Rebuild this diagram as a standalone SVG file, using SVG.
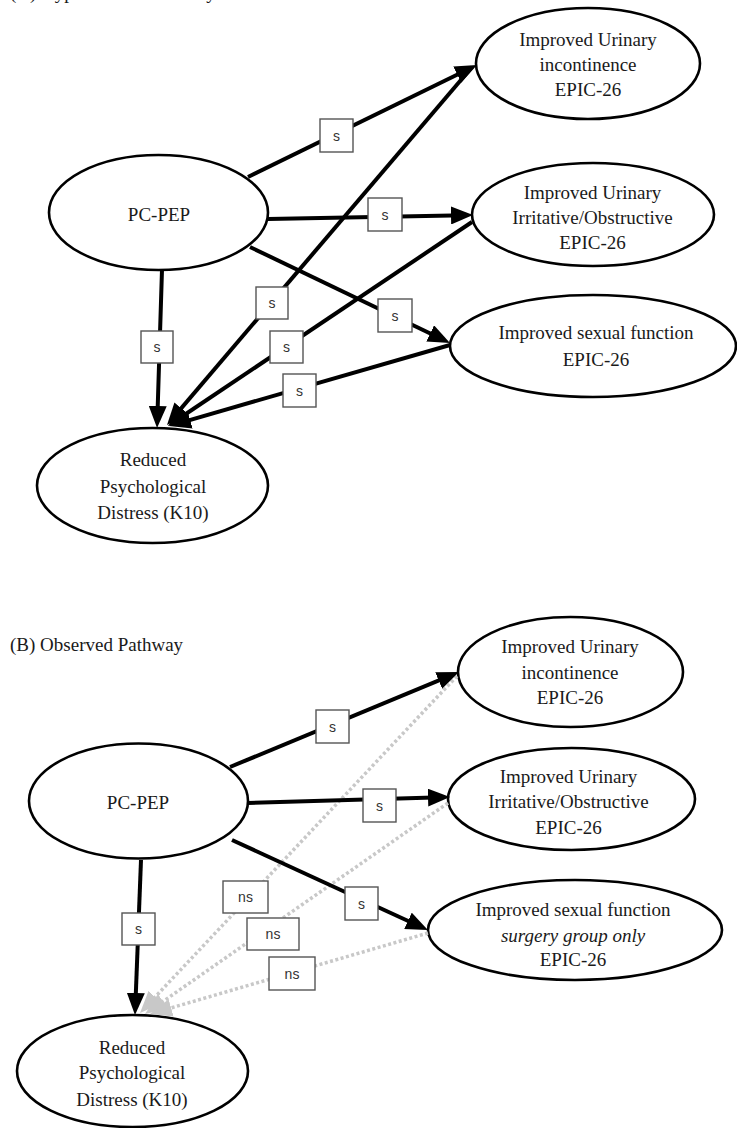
<svg xmlns="http://www.w3.org/2000/svg" width="737" height="1128" viewBox="0 0 737 1128">
<style>
.node ellipse{fill:#fff;stroke:#000;stroke-width:2.6}
.nt{font-family:"Liberation Serif","Times New Roman",serif;font-size:19px;fill:#1a1a1a;text-anchor:middle}
.title{font-family:"Liberation Serif","Times New Roman",serif;font-size:19px;fill:#1a1a1a}
.e{fill:none;stroke:#000;stroke-width:4}
.ed{fill:none;stroke:#c8c8c8;stroke-width:3.5;stroke-dasharray:3 2.5}
.lb rect{fill:#fff;stroke:#555;stroke-width:1.4}
.lb text{font-family:"Liberation Sans",Arial,sans-serif;font-size:14px;fill:#333;text-anchor:middle}
</style>
<defs>
<marker id="ah" viewBox="0 0 22 18" refX="14" refY="9" markerWidth="22" markerHeight="18" markerUnits="userSpaceOnUse" orient="auto"><path d="M0,0 L22,9 L0,18 Z" fill="#000"/></marker>
<marker id="ahg" viewBox="0 0 22 18" refX="14" refY="9" markerWidth="22" markerHeight="18" markerUnits="userSpaceOnUse" orient="auto"><path d="M0,0 L22,9 L0,18 Z" fill="#c8c8c8"/></marker>
</defs>
<rect width="737" height="1128" fill="#fff"/>
<text class="title" x="10" y="-1">(A) Hypothesized Pathway</text>
<text class="title" x="10" y="651">(B) Observed Pathway</text>

<g id="a-pcpep" class="node"><ellipse cx="158.5" cy="212.5" rx="109.5" ry="57.5"/><text class="nt" x="159" y="221">PC-PEP</text></g>
<g id="a-incont" class="node"><ellipse cx="588" cy="63.5" rx="112" ry="55.5"/><text class="nt" x="588" y="46">Improved Urinary</text><text class="nt" x="588" y="71">incontinence</text><text class="nt" x="588" y="96">EPIC-26</text></g>
<g id="a-irrit" class="node"><ellipse cx="593" cy="214.5" rx="121" ry="51.5"/><text class="nt" x="592.5" y="199">Improved Urinary</text><text class="nt" x="592.5" y="224">Irritative/Obstructive</text><text class="nt" x="592.5" y="249">EPIC-26</text></g>
<g id="a-sexual" class="node"><ellipse cx="593" cy="346" rx="143" ry="51"/><text class="nt" x="596" y="339">Improved sexual function</text><text class="nt" x="596" y="366">EPIC-26</text></g>
<g id="a-distress" class="node"><ellipse cx="152.5" cy="485.5" rx="115.5" ry="57.5"/><text class="nt" x="153" y="466">Reduced</text><text class="nt" x="153" y="493">Psychological</text><text class="nt" x="153" y="519">Distress (K10)</text></g>

<g id="b-pcpep" class="node"><ellipse cx="138.5" cy="801" rx="109.5" ry="57.5"/><text class="nt" x="138" y="809">PC-PEP</text></g>
<g id="b-incont" class="node"><ellipse cx="570.5" cy="672" rx="112.5" ry="55"/><text class="nt" x="570" y="653">Improved Urinary</text><text class="nt" x="570" y="679">incontinence</text><text class="nt" x="570" y="704">EPIC-26</text></g>
<g id="b-irrit" class="node"><ellipse cx="571.5" cy="799" rx="123.5" ry="51"/><text class="nt" x="568.5" y="783">Improved Urinary</text><text class="nt" x="568.5" y="808">Irritative/Obstructive</text><text class="nt" x="568.5" y="834">EPIC-26</text></g>
<g id="b-sexual" class="node"><ellipse cx="575" cy="930" rx="147" ry="50"/><text class="nt" x="573" y="916">Improved sexual function</text><text class="nt" x="573" y="942" font-style="italic">surgery group only</text><text class="nt" x="573" y="966">EPIC-26</text></g>
<g id="b-distress" class="node"><ellipse cx="132.5" cy="1071" rx="115.5" ry="56"/><text class="nt" x="132" y="1054">Reduced</text><text class="nt" x="132" y="1079">Psychological</text><text class="nt" x="132" y="1106">Distress (K10)</text></g>

<g id="connectors">
<path class="e" d="M248,177 L469.8,68.5" marker-end="url(#ah)"/>
<path class="e" d="M268,219 L465,215.2" marker-end="url(#ah)"/>
<path class="e" d="M250,247 L442.8,339.5" marker-end="url(#ah)"/>
<path class="e" d="M162,270 L157.3,420" marker-end="url(#ah)"/>
<path class="e" d="M472,67 L172.2,418.9" marker-end="url(#ah)"/>
<path class="e" d="M472,222 L174.6,421.5" marker-end="url(#ah)"/>
<path class="e" d="M450,345 L176.7,423.8" marker-end="url(#ah)"/>

<path class="ed" d="M457,676 L145.5,1007.2" marker-end="url(#ahg)"/>
<path class="ed" d="M448,803 L151.6,1009.4" marker-end="url(#ahg)"/>
<path class="ed" d="M428,933 L157.7,1011.8" marker-end="url(#ahg)"/>
<path class="e" d="M230,767 L451.6,675.1" marker-end="url(#ah)"/>
<path class="e" d="M248,803 L442,797.2" marker-end="url(#ah)"/>
<path class="e" d="M232,840 L420.7,926.7" marker-end="url(#ah)"/>
<path class="e" d="M141,860 L135.3,1007" marker-end="url(#ah)"/>
</g>

<g id="labels" class="lb">
<rect x="320" y="119" width="33" height="33"/><text x="336.5" y="140.5">s</text>
<rect x="368" y="198" width="34" height="33"/><text x="385" y="219.5">s</text>
<rect x="378" y="299" width="34" height="33"/><text x="395" y="320.5">s</text>
<rect x="141" y="331" width="32" height="32"/><text x="157" y="352">s</text>
<rect x="256" y="287" width="32" height="32"/><text x="272" y="308">s</text>
<rect x="270" y="331" width="33" height="32"/><text x="286.5" y="352">s</text>
<rect x="283" y="374" width="33" height="33"/><text x="299.5" y="395.5">s</text>

<rect x="316" y="710" width="33" height="33"/><text x="332.5" y="731.5">s</text>
<rect x="363" y="789" width="33" height="33"/><text x="379.5" y="810.5">s</text>
<rect x="345" y="887" width="33" height="33"/><text x="361.5" y="908.5">s</text>
<rect x="122" y="913" width="33" height="32"/><text x="138.5" y="934">s</text>
<rect x="223" y="881" width="45" height="32"/><text x="245.5" y="902">ns</text>
<rect x="247" y="918" width="52" height="32"/><text x="273" y="939">ns</text>
<rect x="269" y="957" width="46" height="33"/><text x="292" y="978.5">ns</text>
</g>
</svg>
